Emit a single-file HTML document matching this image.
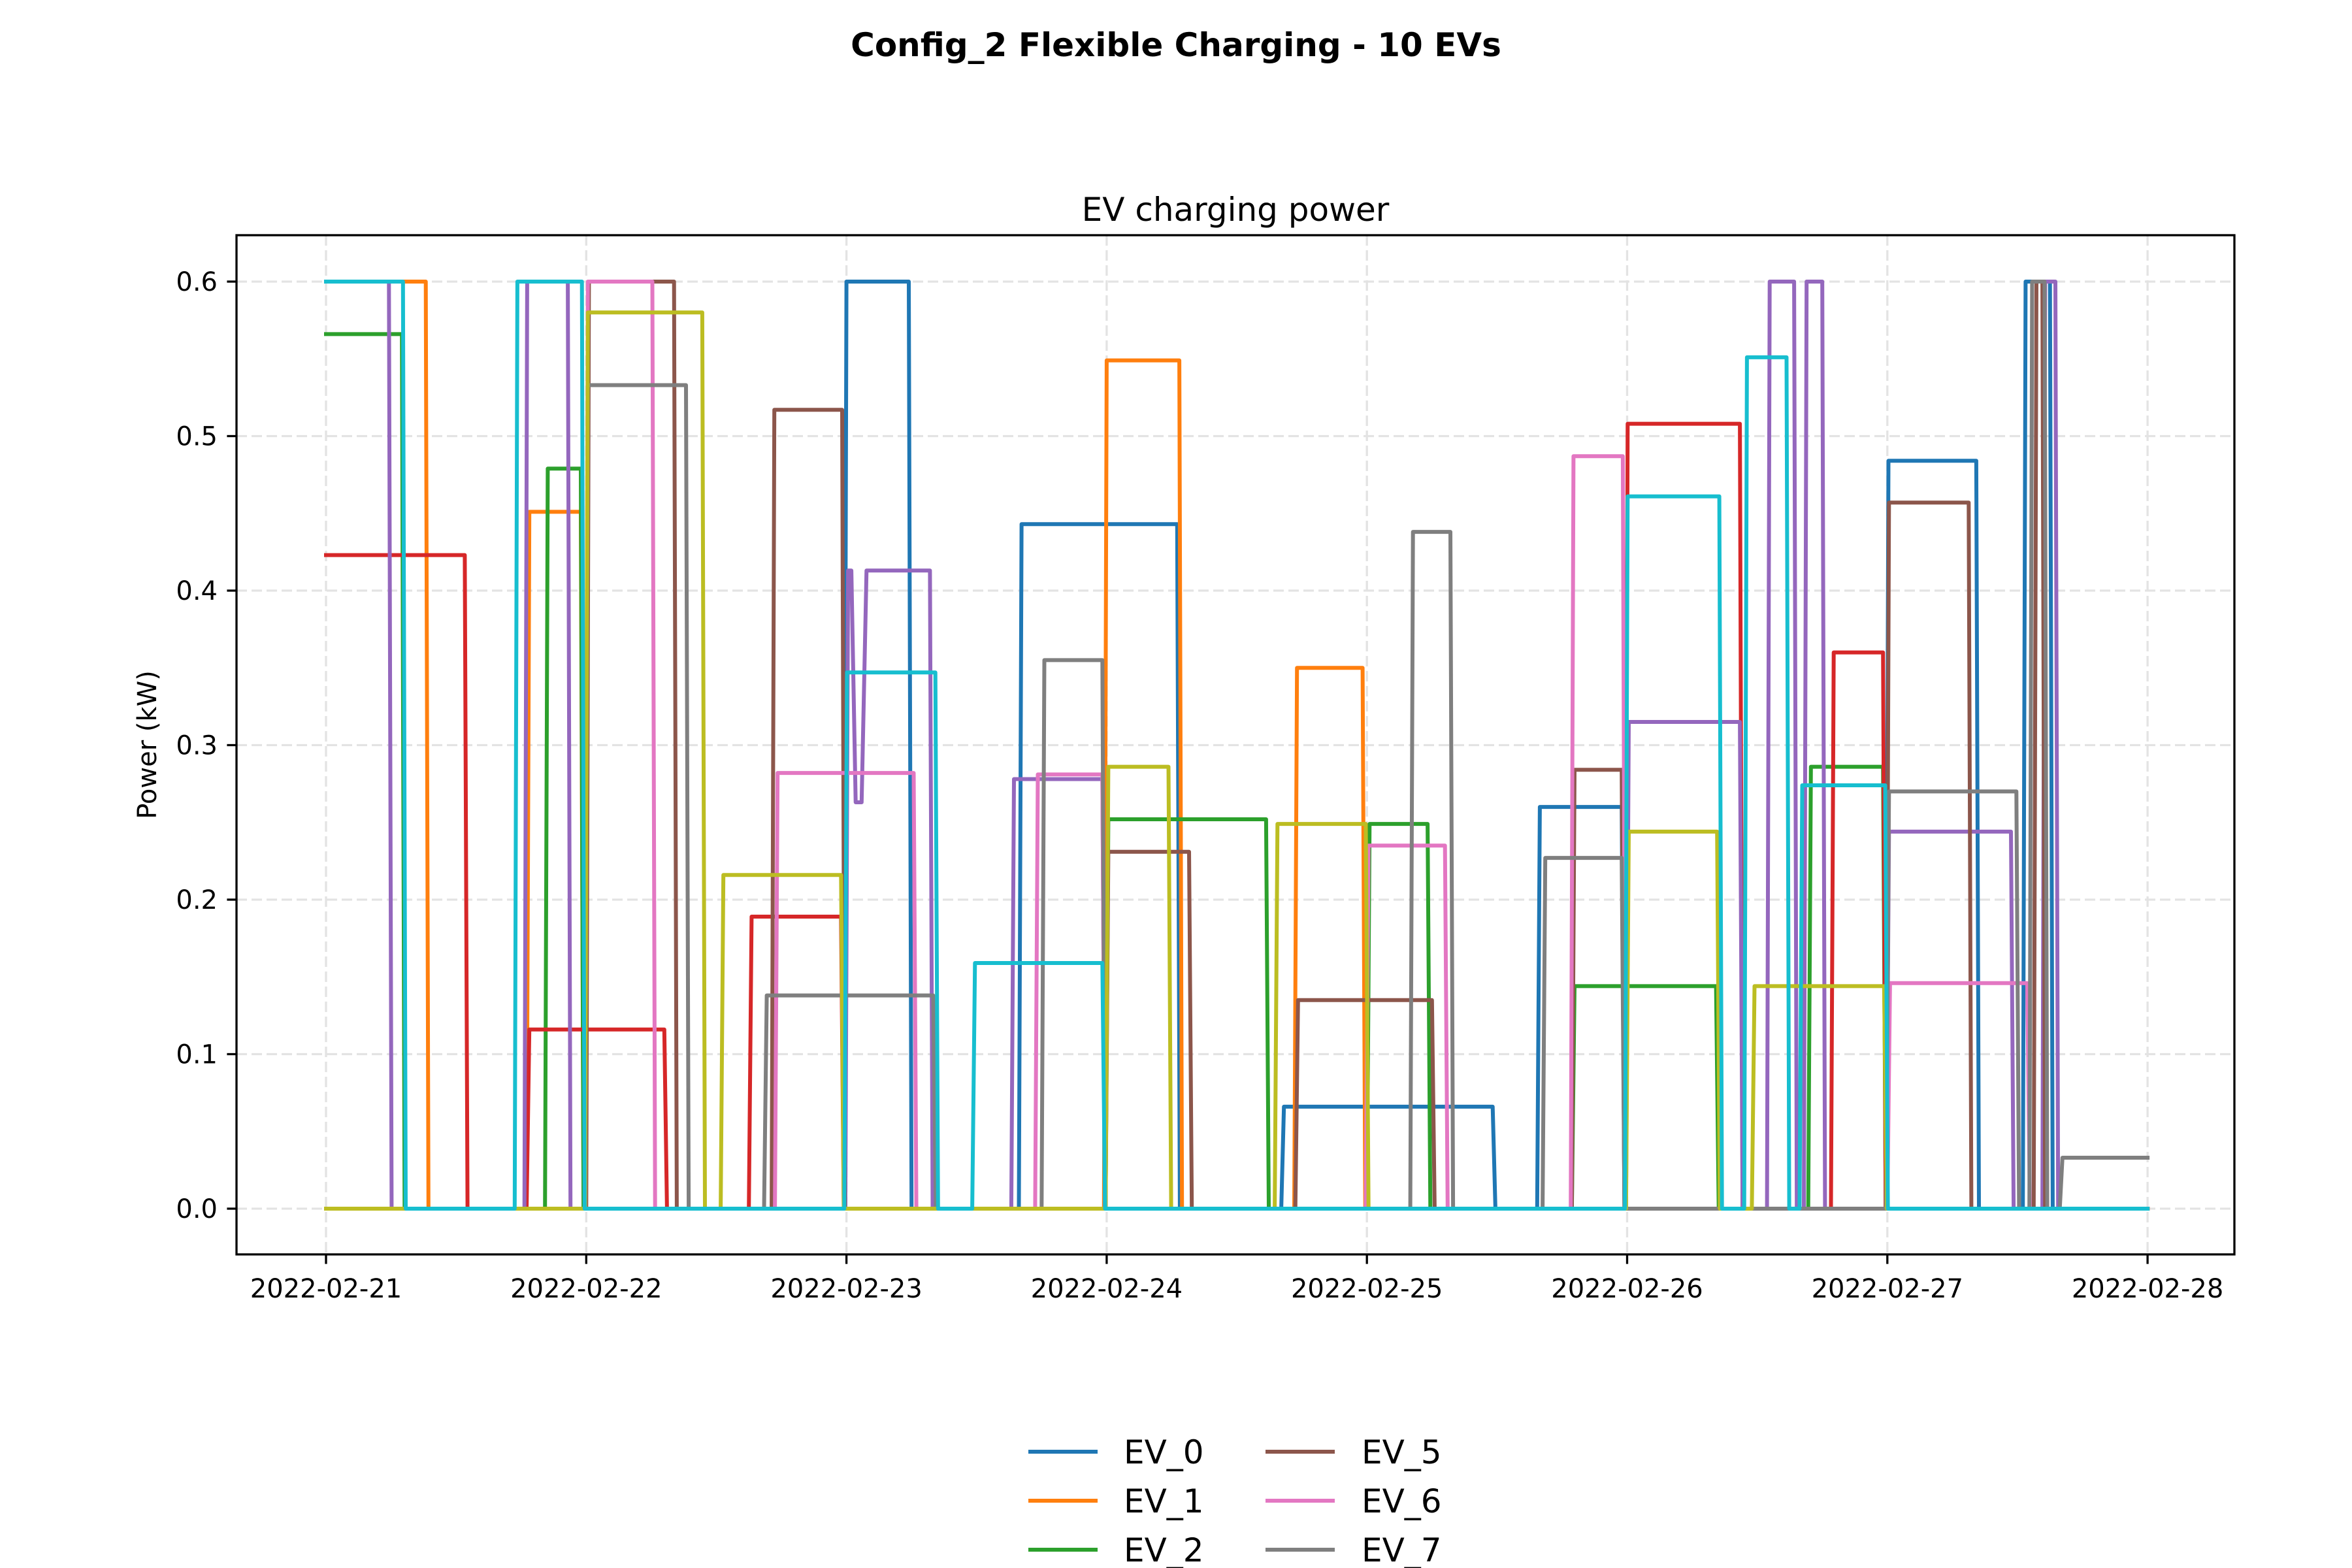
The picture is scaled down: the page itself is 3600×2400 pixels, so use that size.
<!DOCTYPE html>
<html>
<head>
<meta charset="utf-8">
<style>
  html, body { margin: 0; padding: 0; background: #ffffff; width: 3600px; height: 2400px; overflow: hidden; }
  svg { display: block; font-family: "DejaVu Sans", "Liberation Sans", sans-serif; overflow: hidden; }
</style>
</head>
<body>
<svg id="chart" width="3600" height="2400" viewBox="0 0 3600 2400" xmlns="http://www.w3.org/2000/svg">
  <rect x="0" y="0" width="3600" height="2400" fill="#ffffff"/>
  <text x="1800" y="69" text-anchor="middle" dominant-baseline="central" font-size="50" font-weight="bold" fill="#000">Config_2 Flexible Charging - 10 EVs</text>
  <text x="1891" y="321" text-anchor="middle" dominant-baseline="central" font-size="50" fill="#000">EV charging power</text>
  <g id="grid"></g>
  <g id="series"></g>
  <rect x="362" y="360" width="3058" height="1560" fill="none" stroke="#000" stroke-width="3.3"/>
  <g id="ticks"></g>
  <text transform="translate(226,1140) rotate(-90)" text-anchor="middle" dominant-baseline="central" font-size="40" fill="#000">Power (kW)</text>
  <g id="legend"></g>
</svg>
<script>
// ---- chart data (hours from 2022-02-21 00:00; value kW) ----
const xTickLabels = ["2022-02-21","2022-02-22","2022-02-23","2022-02-24","2022-02-25","2022-02-26","2022-02-27","2022-02-28"];
const yTickValues = [0.0, 0.1, 0.2, 0.3, 0.4, 0.5, 0.6];
const yTickLabels = ["0.0","0.1","0.2","0.3","0.4","0.5","0.6"];
const seriesNames = ["EV_0","EV_1","EV_2","EV_3","EV_4","EV_5","EV_6","EV_7","EV_8","EV_9"];
const seriesColors = ["#1f77b4","#ff7f0e","#2ca02c","#d62728","#9467bd","#8c564b","#e377c2","#7f7f7f","#bcbd22","#17becf"];
// each segment: [startHour, endHour, kW]
const ev0 = [[47.75,53.75,0.6],[63.9,78.5,0.443],[88.1,107.6,0.066],[111.7,119.5,0.26],[143.85,152.2,0.484],[156.5,159.0,0.6]];
const ev1 = [[0,9.2,0.6],[18.5,23.5,0.451],[71.75,78.7,0.549],[89.3,95.6,0.35]];
const ev2 = [[0,7.0,0.566],[20.2,23.5,0.479],[71.9,86.7,0.252],[96,101.6,0.249],[114.9,128.2,0.144],[136.7,143.6,0.286]];
const ev3 = [[0,12.8,0.423],[18.5,31.2,0.116],[39.0,47.5,0.189],[119.8,130.4,0.508],[138.8,143.6,0.36]];
const ev4 = [[0,5.8,0.6],[18.3,22.3,0.6],[47.9,48.45,0.413],[48.6,49.4,0.263],[49.6,55.7,0.413],[63.2,71.6,0.278],[119.9,130.4,0.315],[132.9,135.4,0.6],[136.3,138.0,0.6],[143.9,155.4,0.244],[158.3,159.5,0.6]];
const ev5 = [[24,32.1,0.6],[41.1,47.6,0.517],[71.9,79.6,0.231],[89.4,102.0,0.135],[114.9,119.5,0.284],[143.9,151.5,0.457],[157.5,158.3,0.6]];
const ev6 = [[23.9,30.1,0.6],[41.4,54.2,0.282],[65.4,71.6,0.281],[95.9,103.2,0.235],[114.8,119.6,0.487],[144.0,156.9,0.146]];
const ev7 = [[23.9,33.2,0.533],[40.4,56.0,0.138],[66.0,71.6,0.355],[100.0,103.7,0.438],[112.2,119.5,0.227],[143.9,155.9,0.27],[157.1,158.5,0.6],[159.9,168,0.033]];
const ev8 = [[23.9,34.7,0.58],[36.4,47.5,0.216],[71.9,77.7,0.286],[87.5,95.9,0.249],[119.9,128.3,0.244],[131.5,143.7,0.144]];
const ev9 = [[0,7.1,0.6],[17.4,23.6,0.6],[47.8,56.2,0.347],[59.6,71.6,0.159],[119.8,128.5,0.461],[130.8,134.7,0.551],[135.9,143.8,0.274]];
const allSeries = [ev0, ev1, ev2, ev3, ev4, ev5, ev6, ev7, ev8, ev9];

// ---- layout ----
const NS = "http://www.w3.org/2000/svg";
const X0 = 499, DAYPX = 398.3, Y0 = 1850, VPX = 2365;
const AX_L = 362, AX_R = 3420, AX_T = 360, AX_B = 1920;
const TOTAL_H = 168;
function xs(h) { return X0 + h * DAYPX / 24; }
function ys(v) { return Y0 - v * VPX; }
function mk(tag, attrs) {
  const e = document.createElementNS(NS, tag);
  for (const k in attrs) e.setAttribute(k, attrs[k]);
  return e;
}

const grid = document.getElementById("grid");
const ticks = document.getElementById("ticks");
xTickLabels.forEach((lab, i) => {
  const x = xs(i * 24);
  const gl = mk("line", {x1: x, x2: x, y1: AX_T, y2: AX_B, stroke: "#e3e3e3", "stroke-width": 3.3, "stroke-dasharray": "16 7"});
  
  
  grid.appendChild(gl);
  const tk = mk("line", {x1: x, x2: x, y1: AX_B, y2: AX_B + 14.6, stroke: "#000", "stroke-width": 3.3});
  
  
  ticks.appendChild(tk);
  const t = mk("text", {x: x, y: 1986, "text-anchor": "middle", "font-size": 40, fill: "#000"});
  t.textContent = lab;
  
  
  ticks.appendChild(t);
});
yTickValues.forEach((v, i) => {
  const y = ys(v);
  const gl = mk("line", {x1: AX_L, x2: AX_R, y1: y, y2: y, stroke: "#e3e3e3", "stroke-width": 3.3, "stroke-dasharray": "16 7"});
  
  
  grid.appendChild(gl);
  const tk = mk("line", {x1: AX_L - 14.6, x2: AX_L, y1: y, y2: y, stroke: "#000", "stroke-width": 3.3});
  
  
  ticks.appendChild(tk);
  const t = mk("text", {x: 333, y: y + 14, "text-anchor": "end", "font-size": 40, fill: "#000"});
  t.textContent = yTickLabels[i];
  
  
  ticks.appendChild(t);
});

function buildPoints(segs) {
  const pts = [];
  let prevEnd = null;
  segs.forEach(([s, e, v]) => {
    if (prevEnd === null) {
      if (s > 0) { pts.push([0, 0]); pts.push([s, 0]); pts.push([s + 0.25, v]); }
      else pts.push([0, v]);
    } else if (s - prevEnd > 0.3) {
      pts.push([prevEnd + 0.25, 0]); pts.push([s, 0]); pts.push([s + 0.25, v]);
    } else {
      pts.push([s + 0.25, v]);
    }
    pts.push([e, v]);
    prevEnd = e;
  });
  if (prevEnd < TOTAL_H) { pts.push([prevEnd + 0.25, 0]); pts.push([TOTAL_H, 0]); }
  return pts;
}

const seriesG = document.getElementById("series");
allSeries.forEach((segs, i) => {
  const pts = buildPoints(segs).map(p => xs(p[0]).toFixed(1) + "," + ys(p[1]).toFixed(1)).join(" ");
  const pl = mk("polyline", {points: pts, fill: "none", stroke: seriesColors[i], "stroke-width": 6, "stroke-linejoin": "round", "stroke-linecap": "square"});
  
  
  seriesG.appendChild(pl);
});

const legend = document.getElementById("legend");
seriesNames.forEach((name, i) => {
  const col = Math.floor(i / 5), row = i % 5;
  const lx = col === 0 ? 1574 : 1937;
  const tx = col === 0 ? 1720 : 2084;
  const y = 2222 + row * 75;
  if (y > 2400) return;
  const ln = mk("line", {x1: lx, x2: lx + 106, y1: y, y2: y, stroke: seriesColors[i], "stroke-width": 6});
  
  
  legend.appendChild(ln);
  const t = mk("text", {x: tx, y: y + 18, "font-size": 50, fill: "#000"});
  t.textContent = name;
  
  
  legend.appendChild(t);
});
</script>
</body>
</html>
